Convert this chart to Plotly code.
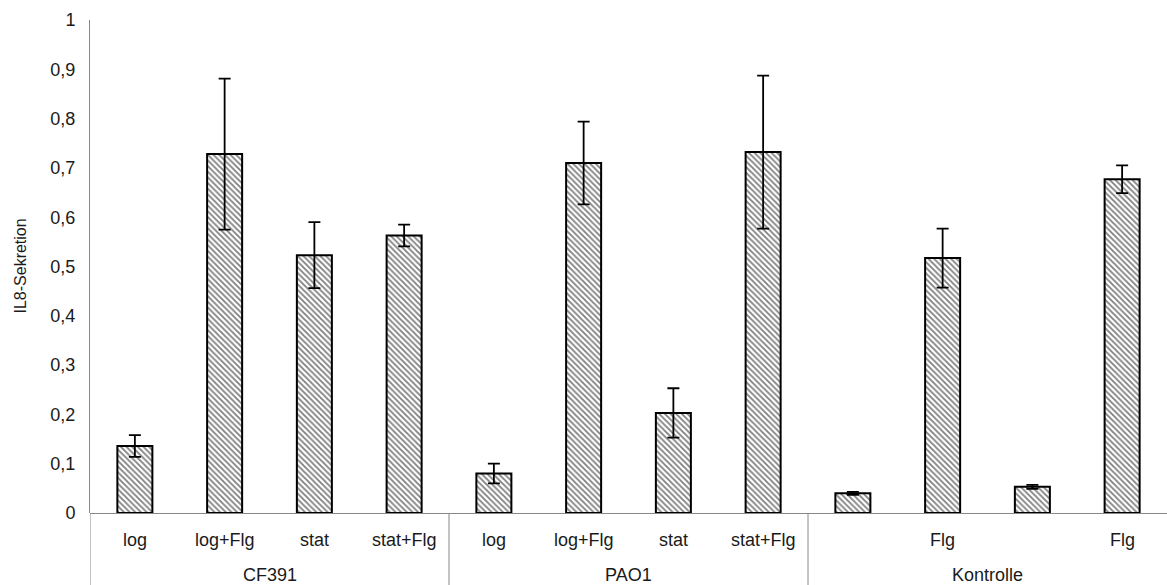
import plotly.graph_objects as go

sub_labels = ["log", "log+Flg", "stat", "stat+Flg",
              "log", "log+Flg", "stat", "stat+Flg",
              "", "Flg", "", "Flg"]
groups = ["CF391", "PAO1", "Kontrolle"]
values = [0.136, 0.728, 0.523, 0.563,
          0.080, 0.710, 0.203, 0.732,
          0.040, 0.517, 0.053, 0.677]
errors = [0.022, 0.153, 0.067, 0.022,
          0.020, 0.084, 0.050, 0.155,
          0.003, 0.060, 0.004, 0.028]
y_ticks = [0, 0.1, 0.2, 0.3, 0.4, 0.5, 0.6, 0.7, 0.8, 0.9, 1]

xs = list(range(len(values)))
font = "Liberation Sans, Arial, sans-serif"
txt_color = "#1a1a1a"

fig = go.Figure(go.Bar(
    x=xs, y=values, width=0.39,
    marker=dict(color="white",
                line=dict(color="black", width=2),
                pattern=dict(shape="\\", fgcolor="black", bgcolor="white",
                             size=4, solidity=0.45)),
    error_y=dict(type="data", array=errors, color="black", thickness=1.8, width=6),
))

shapes = []
n_per = 4
plot_h = 585 - 20 - 72
for i in range(len(groups)):
    xpos = i * n_per - 0.5
    shapes.append(dict(type="line", xref="x", yref="paper",
                       x0=xpos, x1=xpos, y0=0, y1=-72 / plot_h,
                       line=dict(color="#888888", width=1)))

annotations = []
for gi, g in enumerate(groups):
    annotations.append(dict(x=gi * n_per + (n_per - 1) / 2, y=-62 / plot_h,
                            xref="x", yref="paper", text=g, showarrow=False,
                            font=dict(family=font, size=18, color=txt_color),
                            yanchor="middle"))
for i, t in enumerate(sub_labels):
    if t:
        annotations.append(dict(x=i, y=-27 / plot_h, xref="x", yref="paper",
                                text=t, showarrow=False,
                                font=dict(family=font, size=18, color=txt_color),
                                yanchor="middle"))
annotations.append(dict(x=0, xref="paper", xshift=-70, y=0.5, yref="paper",
                        text="IL8-Sekretion", textangle=-90, showarrow=False,
                        xanchor="center", yanchor="middle",
                        font=dict(family=font, size=16, color=txt_color)))

fig.update_layout(
    width=1167, height=585,
    margin=dict(l=90, r=0, t=20, b=72),
    plot_bgcolor="white", paper_bgcolor="white",
    separators=",.",
    showlegend=False,
    shapes=shapes,
    annotations=annotations,
    xaxis=dict(range=[-0.5, 11.5], showticklabels=False, showgrid=False,
               zeroline=False, showline=False, ticks=""),
    yaxis=dict(range=[0, 1], tickvals=y_ticks,
               ticktext=[("%g" % v).replace(".", ",") for v in y_ticks],
               showgrid=False, zeroline=True, zerolinecolor="#888888",
               zerolinewidth=1, showline=True, linecolor="#888888", linewidth=1,
               ticks="", ticklabelstandoff=10,
               tickfont=dict(family=font, size=18, color=txt_color)),
)

fig.write_html("out.html")
